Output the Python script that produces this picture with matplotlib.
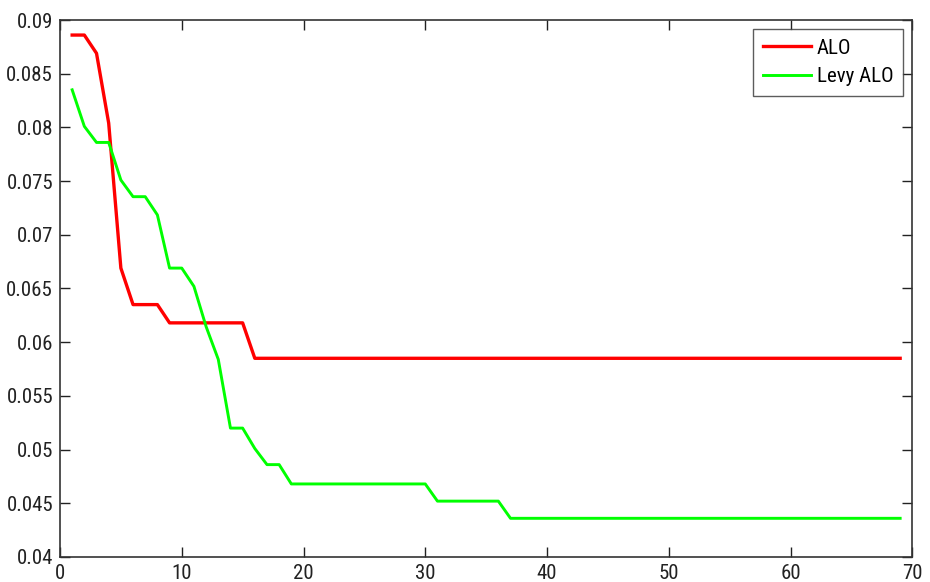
import matplotlib
matplotlib.use("Agg")
import matplotlib.pyplot as plt
from matplotlib import font_manager

iterations = list(range(1, 70))

alo_head = [0.0886, 0.0886, 0.0869, 0.0804, 0.0669, 0.0635, 0.0635, 0.0635,
            0.0618, 0.0618, 0.0618, 0.0618, 0.0618, 0.0618, 0.0618, 0.0585]
alo = alo_head + [0.0585] * (69 - len(alo_head))

levy_head = [0.0835, 0.0801, 0.0786, 0.0786, 0.0751, 0.07355, 0.07355, 0.07185,
             0.0669, 0.0669, 0.0652, 0.06145, 0.0584, 0.0520, 0.0520, 0.0501,
             0.0486, 0.0486] + [0.0468] * 12 + [0.0452] * 6
levy = levy_head + [0.0436] * (69 - len(levy_head))

xticks = [0, 10, 20, 30, 40, 50, 60, 70]
yticks = [0.04, 0.045, 0.05, 0.055, 0.06, 0.065, 0.07, 0.075, 0.08, 0.085, 0.09]
ytick_labels = ["0.04", "0.045", "0.05", "0.055", "0.06", "0.065", "0.07",
                "0.075", "0.08", "0.085", "0.09"]

# look for a condensed sans font
fonts = font_manager.fontManager.ttflist
names = {f.name for f in fonts}
family = None
stretch = "normal"
for cand in ["Liberation Sans Narrow", "Roboto Condensed", "Open Sans Condensed",
             "Arial Narrow", "Nimbus Sans Narrow"]:
    if cand in names:
        family = cand
        break
if family is None:
    cond = [f for f in fonts if str(f.stretch) in ("condensed", "semi-condensed", "575", "500", "625")
            and "Sans" in f.name and "Mono" not in f.name]
    if cond:
        family = cond[0].name
        stretch = cond[0].stretch
    else:
        family = "Liberation Sans"
plt.rcParams["font.family"] = [family, "DejaVu Sans"]
plt.rcParams["font.stretch"] = stretch
narrow = family != "Liberation Sans"
fs = 15 if narrow else 13.5

fig = plt.figure(figsize=(9.3, 5.82), dpi=100)
ax = fig.add_axes([0.0645, 0.043, 0.9165, 0.9226])

ax.plot(iterations, alo, color=(1, 0, 0), lw=2.4, label="ALO")
ax.plot(iterations, levy, color=(0, 1, 0), lw=2.1, label="Levy ALO")

ax.set_xlim(0, 70)
ax.set_ylim(0.04, 0.09)
ax.set_xticks(xticks)
ax.set_yticks(yticks)
ax.set_yticklabels(ytick_labels)
ax.tick_params(direction="in", top=True, right=True, length=7, width=1,
               labelsize=fs, colors="#222222", pad=5)
for s in ax.spines.values():
    s.set_color("#333333")
    s.set_linewidth(1.2)

leg = ax.legend(loc="upper right", fontsize=fs, frameon=True, fancybox=False,
                edgecolor="#333333", borderpad=0.45, handlelength=2.3,
                labelspacing=0.45, handletextpad=0.3, borderaxespad=0.45)
leg.get_frame().set_linewidth(1.0)

fig.savefig("out.png", dpi=100)
